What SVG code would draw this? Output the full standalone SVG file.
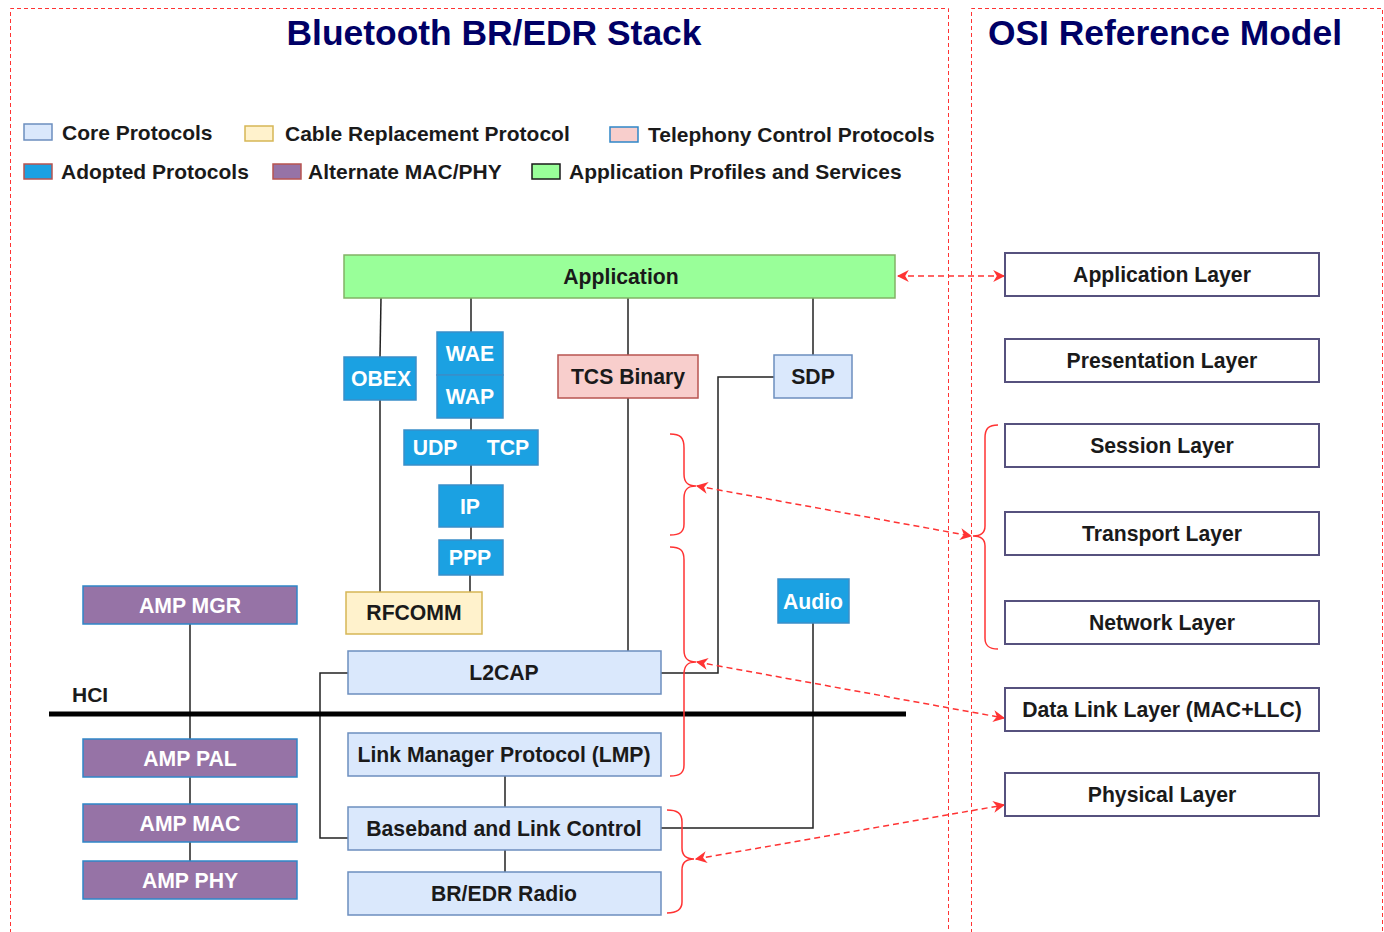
<svg xmlns="http://www.w3.org/2000/svg" width="1384" height="932" viewBox="0 0 1384 932">
<defs>
<marker id="ah" viewBox="0 0 10 10" refX="9" refY="5" markerWidth="12" markerHeight="12" markerUnits="userSpaceOnUse" orient="auto-start-reverse">
<path d="M0,0 L10,5 L0,10 L3,5 Z" fill="#ff3333"/>
</marker>
<style>
text{font-family:"Liberation Sans",Arial,Helvetica,sans-serif;}
.title{font-size:35.4px;font-weight:bold;fill:#000066;text-anchor:middle;}
.leg{font-size:21px;font-weight:bold;fill:#1a1a1a;}
.lbl{font-size:21.2px;font-weight:bold;fill:#1a1a1a;text-anchor:middle;}
.wl{font-size:21.2px;font-weight:bold;fill:#ffffff;text-anchor:middle;}
.frame{fill:none;stroke:#ff3333;stroke-width:1;stroke-dasharray:4,3;}
.core{fill:#dae8fc;stroke:#6c8ebf;stroke-width:1.5;}
.cable{fill:#fff2cc;stroke:#d6b656;stroke-width:1.5;}
.tel{fill:#f8cecc;stroke:#b85450;stroke-width:1.5;}
.adopt{fill:#1ba1e2;stroke:#3a8fc9;stroke-width:1.5;}
.amp{fill:#9673a6;stroke:#2f86c8;stroke-width:1.5;}
.app{fill:#99ff99;stroke:#82b366;stroke-width:1.5;}
.osi{fill:#ffffff;stroke:#56517e;stroke-width:2;}
.ln{fill:none;stroke:#222222;stroke-width:1.5;}
.brace{fill:none;stroke:#ff3333;stroke-width:1.5;}
.darr{fill:none;stroke:#ff3333;stroke-width:1.5;stroke-dasharray:6,4;marker-start:url(#ah);marker-end:url(#ah);}
</style>
</defs>
<rect width="1384" height="932" fill="#ffffff"/>

<g id="frames">
<path class="frame" d="M10.5,940 L10.5,8.5 L948.5,8.5 L948.5,940"/>
<path class="frame" d="M971.5,940 L971.5,8.5 L1382.5,8.5 L1382.5,940"/>
</g>

<g id="titles">
<text class="title" x="494" y="45">Bluetooth BR/EDR Stack</text>
<text class="title" x="1165" y="45">OSI Reference Model</text>
</g>

<g id="legend">
<rect class="core" x="24" y="124" width="28" height="16"/>
<text class="leg" x="62" y="140">Core Protocols</text>
<rect class="cable" x="245" y="126" width="28" height="15"/>
<text class="leg" x="285" y="141">Cable Replacement Protocol</text>
<rect x="610" y="127" width="28" height="15" fill="#f8cecc" stroke="#2f86c8" stroke-width="1.5"/>
<text class="leg" x="648" y="142">Telephony Control Protocols</text>
<rect x="24" y="164" width="28" height="15" fill="#1ba1e2" stroke="#b85450" stroke-width="1.5"/>
<text class="leg" x="61" y="179">Adopted Protocols</text>
<rect x="273" y="164" width="28" height="15" fill="#9673a6" stroke="#b85450" stroke-width="1.5"/>
<text class="leg" x="308" y="179">Alternate MAC/PHY</text>
<rect x="532" y="164" width="28" height="15" fill="#99ff99" stroke="#1a1a1a" stroke-width="1.5"/>
<text class="leg" x="569" y="179">Application Profiles and Services</text>
</g>

<g id="connectors">
<path class="ln" d="M381,298 L380,357"/>
<path class="ln" d="M471,298 L471,332"/>
<path class="ln" d="M628,298 L628,355"/>
<path class="ln" d="M813,298 L813,355"/>
<path class="ln" d="M471,418 L471,430"/>
<path class="ln" d="M471,465 L471,485"/>
<path class="ln" d="M471,527 L471,540"/>
<path class="ln" d="M470,575 L470,592"/>
<path class="ln" d="M380,400 L380,592"/>
<path class="ln" d="M628,398 L628,651"/>
<path class="ln" d="M774,377 L718,377 L718,673 L661,673"/>
<path class="ln" d="M348,673 L320,673 L320,838 L348,838"/>
<path class="ln" d="M190,624 L190,739"/>
<path class="ln" d="M190,777 L190,804"/>
<path class="ln" d="M190,842 L190,861"/>
<path class="ln" d="M505,776 L505,807"/>
<path class="ln" d="M505,850 L505,872"/>
<path class="ln" d="M813,623 L813,828 L661,828"/>
<path class="darr" d="M898,276 L1004,276"/>
<path class="darr" d="M697,486 L971,536"/>
<path class="darr" d="M697,662 L1004,718"/>
<path class="darr" d="M696,859 L1004,805"/>
</g>

<g id="hci">
<path d="M49,714 L906,714" stroke="#000000" stroke-width="5"/>
<text x="72" y="702" style="font-size:21px;font-weight:bold;fill:#1a1a1a;">HCI</text>
</g>

<g id="braces">
<path class="brace" d="M670,434 C680,434 684,437 684,448 L684,474 C684,483 688,486 696,486 C688,486 684,489 684,498 L684,524 C684,532 680,535 670,535"/>
<path class="brace" d="M670,547 C680,547 684,550 684,560 L684,650 C684,659 688,662 696,662 C688,662 684,665 684,674 L684,765 C684,773 680,776 670,776"/>
<path class="brace" d="M667,810 C677,810 682,813 682,822 L682,848 C682,856 686,859 694,859 C686,859 682,862 682,870 L682,902 C682,910 677,913 667,913"/>
<path class="brace" d="M998,425 C989,425 985,428 985,438 L985,526 C985,533 981,536 973,536 C981,536 985,539 985,546 L985,638 C985,646 989,649 998,649"/>
</g>

<g id="application"><rect class="app" x="344" y="255" width="551" height="43"/><text class="lbl" x="621" y="284">Application</text></g>
<g id="obex"><rect class="adopt" x="344" y="357" width="72" height="43"/><text class="wl" x="381" y="386">OBEX</text></g>
<g id="wae"><rect class="adopt" x="437" y="332" width="66" height="43"/><text class="wl" x="470" y="361">WAE</text></g>
<g id="wap"><rect class="adopt" x="437" y="375" width="66" height="43"/><text class="wl" x="470" y="404">WAP</text></g>
<g id="tcs"><rect class="tel" x="558" y="355" width="140" height="43"/><text class="lbl" x="628" y="384">TCS Binary</text></g>
<g id="sdp"><rect class="core" x="774" y="355" width="78" height="43"/><text class="lbl" x="813" y="384">SDP</text></g>
<g id="udptcp"><rect class="adopt" x="404" y="430" width="134" height="35"/><text class="wl" x="435" y="455">UDP</text><text class="wl" x="508" y="455">TCP</text></g>
<g id="ip"><rect class="adopt" x="439" y="485" width="64" height="42"/><text class="wl" x="470" y="514">IP</text></g>
<g id="ppp"><rect class="adopt" x="439" y="540" width="64" height="35"/><text class="wl" x="470" y="565">PPP</text></g>
<g id="rfcomm"><rect class="cable" x="346" y="592" width="136" height="42"/><text class="lbl" x="414" y="620">RFCOMM</text></g>
<g id="audio"><rect class="adopt" x="778" y="579" width="71" height="44"/><text class="wl" x="813" y="609">Audio</text></g>
<g id="l2cap"><rect class="core" x="348" y="651" width="313" height="43"/><text class="lbl" x="504" y="680">L2CAP</text></g>
<g id="lmp"><rect class="core" x="348" y="733" width="313" height="43"/><text class="lbl" x="504" y="762">Link Manager Protocol (LMP)</text></g>
<g id="baseband"><rect class="core" x="348" y="807" width="313" height="43"/><text class="lbl" x="504" y="836">Baseband and Link Control</text></g>
<g id="radio"><rect class="core" x="348" y="872" width="313" height="43"/><text class="lbl" x="504" y="901">BR/EDR Radio</text></g>
<g id="ampmgr"><rect class="amp" x="83" y="586" width="214" height="38"/><text class="wl" x="190" y="613">AMP MGR</text></g>
<g id="amppal"><rect class="amp" x="83" y="739" width="214" height="38"/><text class="wl" x="190" y="766">AMP PAL</text></g>
<g id="ampmac"><rect class="amp" x="83" y="804" width="214" height="38"/><text class="wl" x="190" y="831">AMP MAC</text></g>
<g id="ampphy"><rect class="amp" x="83" y="861" width="214" height="38"/><text class="wl" x="190" y="888">AMP PHY</text></g>

<g id="osi-application"><rect class="osi" x="1005" y="253" width="314" height="43"/><text class="lbl" x="1162" y="282">Application Layer</text></g>
<g id="osi-presentation"><rect class="osi" x="1005" y="339" width="314" height="43"/><text class="lbl" x="1162" y="368">Presentation Layer</text></g>
<g id="osi-session"><rect class="osi" x="1005" y="424" width="314" height="43"/><text class="lbl" x="1162" y="453">Session Layer</text></g>
<g id="osi-transport"><rect class="osi" x="1005" y="512" width="314" height="43"/><text class="lbl" x="1162" y="541">Transport Layer</text></g>
<g id="osi-network"><rect class="osi" x="1005" y="601" width="314" height="43"/><text class="lbl" x="1162" y="630">Network Layer</text></g>
<g id="osi-datalink"><rect class="osi" x="1005" y="688" width="314" height="43"/><text class="lbl" x="1162" y="717">Data Link Layer (MAC+LLC)</text></g>
<g id="osi-physical"><rect class="osi" x="1005" y="773" width="314" height="43"/><text class="lbl" x="1162" y="802">Physical Layer</text></g>
</svg>
